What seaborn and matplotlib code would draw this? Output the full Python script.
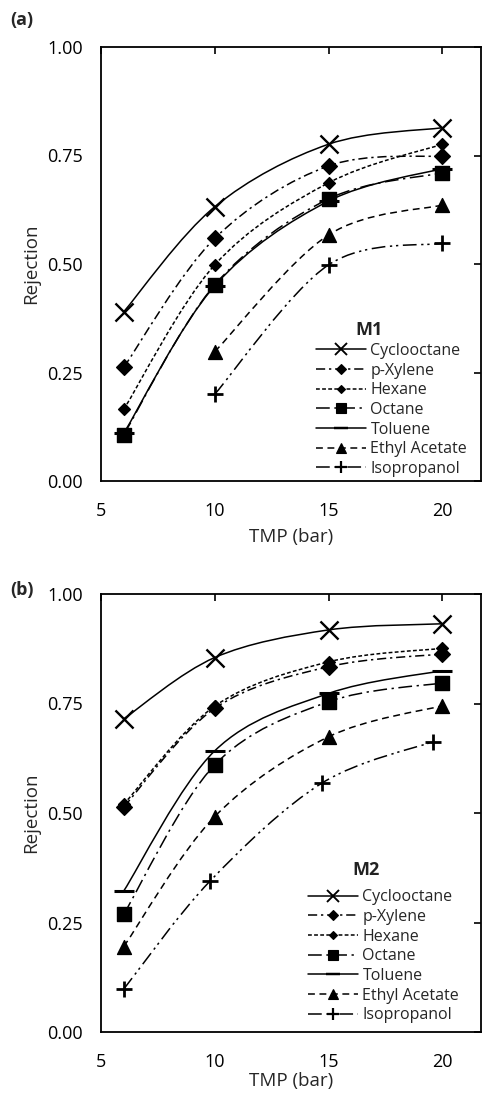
import matplotlib

matplotlib.use('Agg')
import matplotlib.pyplot as plt
import seaborn as sns
from matplotlib.path import Path
from matplotlib.patches import PathPatch
from matplotlib.lines import Line2D

# TMP (bar)
tmp = [6, 10, 15, 20]
tmp_late = [10, 15, 20]

# M1 rejection
m1_cyclooctane = [0.390, 0.632, 0.776, 0.814]
m1_pxylene = [0.262, 0.559, 0.726, 0.749]
m1_hexane = [0.165, 0.498, 0.687, 0.776]
m1_octane = [0.107, 0.452, 0.650, 0.710]
m1_toluene = [0.110, 0.450, 0.645, 0.720]
m1_ethyl = [0.298, 0.567, 0.636]
m1_isoprop = [0.200, 0.498, 0.548]

# M2 rejection
m2_cyclooctane = [0.715, 0.855, 0.918, 0.932]
m2_pxylene = [0.514, 0.739, 0.834, 0.863]
m2_hexane = [0.520, 0.744, 0.845, 0.876]
m2_octane = [0.269, 0.610, 0.754, 0.797]
m2_toluene = [0.322, 0.642, 0.773, 0.825]
m2_ethyl = [0.195, 0.492, 0.674, 0.745]
m2_isoprop = [0.098, 0.345, 0.568, 0.663]
m2_isoprop_tmp = [6, 9.8, 14.7, 19.6]

names = ['Cyclooctane', 'p-Xylene', 'Hexane', 'Octane', 'Toluene',
         'Ethyl Acetate', 'Isopropanol']

# style per solvent: linestyle, marker, marker size (pt), marker edge width
styles = {
    'Cyclooctane': ('-', 'x', 13, 1.7),
    'p-Xylene': ((0, (6, 2.5, 1.5, 2.5)), 'D', 8, 1.0),
    'Hexane': ((0, (2.5, 1.5)), 'D', 6, 1.0),
    'Octane': ((0, (9, 3, 1.5, 3)), 's', 10, 1.0),
    'Toluene': ('-', '_', 14, 2.2),
    'Ethyl Acetate': ((0, (4.5, 3)), '^', 10, 1.0),
    'Isopropanol': ((0, (9, 3, 1.5, 2.5, 1.5, 3)), '+', 12, 2.0),
}


def smooth_path(xs, ys):
    # Excel-like smoothed line: cubic bezier through the points
    pts = list(zip(xs, ys))
    verts = [pts[0]]
    codes = [Path.MOVETO]
    n = len(pts)
    for i in range(n - 1):
        p0 = pts[i - 1] if i > 0 else pts[i]
        p1 = pts[i]
        p2 = pts[i + 1]
        p3 = pts[i + 2] if i + 2 < n else pts[i + 1]
        c1 = (p1[0] + (p2[0] - p0[0]) / 6, p1[1] + (p2[1] - p0[1]) / 6)
        c2 = (p2[0] - (p3[0] - p1[0]) / 6, p2[1] - (p3[1] - p1[1]) / 6)
        verts += [c1, c2, p2]
        codes += [Path.CURVE4] * 3
    return Path(verts, codes)


def draw_panel(ax, series, label, title_xy, legend_xy, xlabelpad):
    for name in names:
        xs, ys = series[name]
        ls, mk, ms, mew = styles[name]
        ax.add_patch(PathPatch(smooth_path(xs, ys), fill=False, ec='black',
                               lw=1.1, ls=ls, transform=ax.transData))
        sns.scatterplot(x=xs, y=ys, marker=mk, s=ms ** 2, color='black',
                        edgecolor='black', linewidth=mew, ax=ax, zorder=3)

    ax.set_xlim(5, 21.7)
    ax.set_ylim(0, 1)
    ax.set_xticks([5, 10, 15, 20])
    ax.set_yticks([0, 0.25, 0.5, 0.75, 1.0])
    ax.set_yticklabels(['0.00', '0.25', '0.50', '0.75', '1.00'])
    ax.tick_params(axis='both', direction='in', length=5, width=1.2,
                   top=True, right=True, labelsize=13, colors='black')
    ax.tick_params(axis='y', left=False, pad=13)
    ax.tick_params(axis='x', pad=15)
    for sp in ax.spines.values():
        sp.set_visible(True)
        sp.set_linewidth(1.3)
        sp.set_color('black')
    ax.set_xlabel('TMP (bar)', fontsize=13.5, labelpad=xlabelpad)
    ax.set_ylabel('Rejection', fontsize=13.5, labelpad=5)

    handles = []
    for name in names:
        ls, mk, ms, mew = styles[name]
        handles.append(Line2D([], [], color='black', lw=1.1, ls=ls, marker=mk,
                              markersize=ms * 0.7, markeredgewidth=mew * 0.8))
    ax.legend(handles, names, frameon=False,
              loc='upper left', bbox_to_anchor=legend_xy,
              fontsize=11.5, handlelength=3.1, handletextpad=0.3,
              labelspacing=0.23, borderpad=0, borderaxespad=0)
    ax.text(*title_xy, label, transform=ax.transAxes, fontsize=13,
            fontweight='bold', color='#222222', ha='center', va='center')


sns.set_style('white')
plt.rcParams['font.family'] = ['Open Sans', 'DejaVu Sans']

fig = plt.figure(figsize=(4.87, 10.93), dpi=100)
ax1 = fig.add_axes([101 / 487, (1093 - 481) / 1093, 380 / 487, 434 / 1093])
ax2 = fig.add_axes([101 / 487, (1093 - 1032) / 1093, 380 / 487, 438 / 1093])

series_m1 = {
    'Cyclooctane': (tmp, m1_cyclooctane),
    'p-Xylene': (tmp, m1_pxylene),
    'Hexane': (tmp, m1_hexane),
    'Octane': (tmp, m1_octane),
    'Toluene': (tmp, m1_toluene),
    'Ethyl Acetate': (tmp_late, m1_ethyl),
    'Isopropanol': (tmp_late, m1_isoprop),
}
series_m2 = {
    'Cyclooctane': (tmp, m2_cyclooctane),
    'p-Xylene': (tmp, m2_pxylene),
    'Hexane': (tmp, m2_hexane),
    'Octane': (tmp, m2_octane),
    'Toluene': (tmp, m2_toluene),
    'Ethyl Acetate': (tmp, m2_ethyl),
    'Isopropanol': (m2_isoprop_tmp, m2_isoprop),
}

draw_panel(ax1, series_m1, 'M1', (0.705, 0.348), (0.566, 0.318), 6)
draw_panel(ax2, series_m2, 'M2', (0.697, 0.370), (0.545, 0.326), 1)

fig.text(10 / 487, 1 - 20 / 1093, '(a)', fontsize=13, fontweight='bold',
         ha='left', va='center')
fig.text(10 / 487, 1 - 590 / 1093, '(b)', fontsize=13, fontweight='bold',
         ha='left', va='center')

fig.savefig('out.png', dpi=100)
plt.close(fig)
